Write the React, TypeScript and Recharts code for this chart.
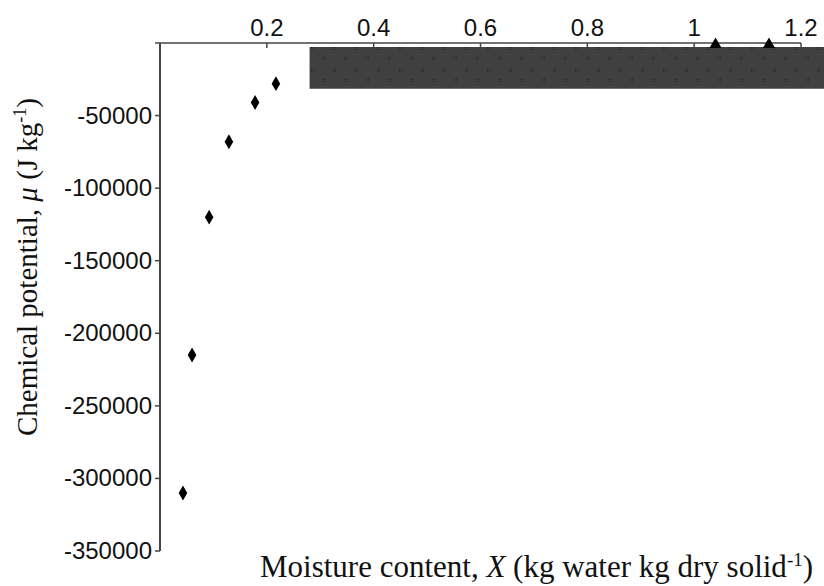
import React from 'react';
import { ScatterChart, Scatter, XAxis, YAxis, ZAxis, ReferenceArea } from 'recharts';

// measured points (moisture content vs chemical potential)
const moisture = [0.043, 0.06, 0.092, 0.129, 0.178, 0.217];
const potential = [-310000, -215000, -120000, -68000, -41000, -28000];

// second series, only the tips show above the dark band
const moistureHigh = [1.04, 1.14];
const potentialHigh = [-1000, -1000];

const xTicks = [0, 0.2, 0.4, 0.6, 0.8, 1, 1.2];
const yTicks = [-350000, -300000, -250000, -200000, -150000, -100000, -50000, 0];

// dark band over the top of the plot
const bandX = [0.28, 1.245];
const bandY = [-2700, -31500];

const lowData = moisture.map((x, i) => ({ x, y: potential[i] }));
const highData = moistureHigh.map((x, i) => ({ x, y: potentialHigh[i] }));

const AXIS = '#444';
const TICK_FONT = '"Liberation Sans", Arial, sans-serif';
const TITLE_FONT = '"Liberation Serif", "Times New Roman", serif';

// top axis: ticks point down into the plot, labels sit above
const TopTick = ({ x, y, payload }: any) => {
    if (payload.value === 0) return null;
    return (
        <g>
            <line x1={x} x2={x} y1={y} y2={y + 5} stroke={AXIS} strokeWidth={1.5} />
            <text x={x} y={y - 7} textAnchor="middle" fontSize={24} fontFamily={TICK_FONT} fill="#111">
                {payload.value}
            </text>
        </g>
    );
};

const LeftTick = ({ x, y, payload }: any) => {
    if (payload.value === 0) return null;
    return (
        <text x={x} y={y} dy={8} textAnchor="end" fontSize={24} fontFamily={TICK_FONT} fill="#111">
            {payload.value}
        </text>
    );
};

export default function App() {
    return (
        <div style={{ position: 'relative', width: 824, height: 586, background: '#fff', overflow: 'hidden' }}>
            <style>{'body{margin:0}'}</style>
            <ScatterChart width={824} height={586} margin={{ top: 0, right: 23, bottom: 35, left: 0 }}>
                <defs>
                    <pattern id="bandDots" width="22" height="22" patternUnits="userSpaceOnUse">
                        <rect width="22" height="22" fill="#404040" />
                        <rect x="3" y="3" width="1" height="1" fill="#262626" />
                        <rect x="5" y="3" width="1" height="1" fill="#262626" />
                        <rect x="3" y="5" width="1" height="1" fill="#262626" />
                        <rect x="5" y="5" width="1" height="1" fill="#262626" />
                        <rect x="14" y="13" width="1" height="1" fill="#262626" />
                        <rect x="16" y="13" width="1" height="1" fill="#262626" />
                        <rect x="14" y="15" width="1" height="1" fill="#262626" />
                        <rect x="16" y="15" width="1" height="1" fill="#262626" />
                    </pattern>
                </defs>
                <XAxis
                    type="number"
                    dataKey="x"
                    orientation="top"
                    domain={[0, 1.2]}
                    ticks={xTicks}
                    height={43}
                    tickSize={0}
                    tickMargin={0}
                    tickLine={false}
                    axisLine={{ stroke: AXIS, strokeWidth: 1.5 }}
                    tick={<TopTick />}
                    interval={0}
                />
                <YAxis
                    type="number"
                    dataKey="y"
                    domain={[-350000, 0]}
                    ticks={yTicks}
                    width={160}
                    tickSize={5}
                    tickMargin={3}
                    tickLine={{ stroke: AXIS, strokeWidth: 1.5 }}
                    axisLine={{ stroke: AXIS, strokeWidth: 2 }}
                    tick={<LeftTick />}
                    interval={0}
                />
                <ZAxis zAxisId="low" range={[40, 40]} />
                <ZAxis zAxisId="high" range={[12, 12]} />
                <Scatter data={lowData} zAxisId="low" shape="diamond" fill="#000" isAnimationActive={false} />
                <Scatter data={highData} zAxisId="high" shape="triangle" fill="#000" isAnimationActive={false} />
                <ReferenceArea
                    x1={bandX[0]}
                    x2={bandX[1]}
                    y1={bandY[0]}
                    y2={bandY[1]}
                    ifOverflow="visible"
                    fill="url(#bandDots)"
                    fillOpacity={1}
                    stroke="none"
                />
            </ScatterChart>
            <svg width={60} height={586} style={{ position: 'absolute', left: 0, top: 0 }}>
                <text
                    transform="translate(37 267) rotate(-90)"
                    textAnchor="middle"
                    fontSize={29}
                    fontFamily={TITLE_FONT}
                    fill="#111"
                >
                    Chemical potential,{' '}
                    <tspan fontStyle="italic">μ</tspan>
                    {'  (J kg'}
                    <tspan dy={-11} fontSize={18}>-1</tspan>
                    <tspan dy={11}>)</tspan>
                </text>
            </svg>
            <div
                style={{
                    position: 'absolute',
                    left: 0,
                    width: 1073,
                    top: 549,
                    textAlign: 'center',
                    fontFamily: TITLE_FONT,
                    fontSize: 31,
                    lineHeight: '36px',
                    color: '#111',
                    whiteSpace: 'nowrap',
                }}
            >
                Moisture content, <i>X</i> (kg water kg dry solid<sup style={{ fontSize: 19, lineHeight: 0 }}>-1</sup>)
            </div>
        </div>
    );
}
